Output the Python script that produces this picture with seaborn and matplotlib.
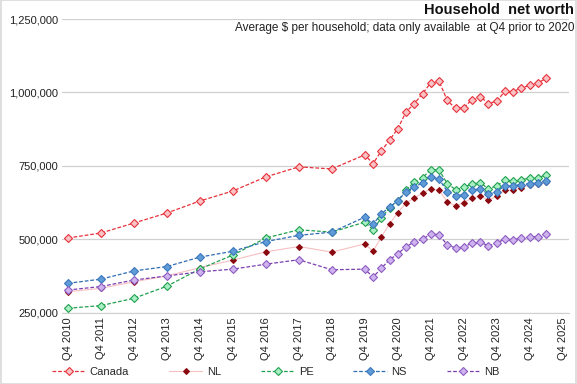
import numpy as np
import pandas as pd
import seaborn as sns
import matplotlib.pyplot as plt
from matplotlib.lines import Line2D
from matplotlib.patches import Rectangle
from matplotlib.ticker import FuncFormatter


# periods: annual Q4 up to 2019, then quarterly
periods = ['Q4 %d' % y for y in range(2010, 2020)]
periods += ['Q%d %d' % (q, y) for y in range(2020, 2026) for q in range(1, 5)][:22]

canada = [505000, 522000, 556000, 590000, 631000, 665000, 713000, 747000, 740000, 788000,
          758000, 801000, 838000, 877000,
          934000, 962000, 996000, 1033000,
          1039000, 973000, 946000, 948000,
          976000, 986000, 962000, 971000,
          1004000, 1003000, 1016000, 1024000,
          1033000, 1048000]
nl = [322000, 334000, 356000, 376000, 404000, 430000, 458000, 476000, 457000, 485000,
      460000, 508000, 553000, 591000,
      624000, 641000, 658000, 672000,
      668000, 628000, 615000, 625000,
      641000, 648000, 633000, 648000,
      667000, 667000, 676000, 686000,
      690000, 697000]
pe = [266000, 275000, 300000, 341000, 400000, 447000, 505000, 533000, 525000, 559000,
      533000, 573000, 607000, 632000,
      667000, 696000, 710000, 738000,
      737000, 690000, 670000, 677000,
      690000, 693000, 672000, 683000,
      701000, 698000, 704000, 708000,
      710000, 720000]
ns = [351000, 365000, 393000, 408000, 440000, 460000, 493000, 514000, 525000, 576000,
      552000, 587000, 610000, 632000,
      662000, 679000, 692000, 713000,
      706000, 663000, 649000, 652000,
      668000, 672000, 654000, 663000,
      683000, 683000, 687000, 690000,
      692000, 699000]
nb = [328000, 340000, 362000, 376000, 390000, 399000, 416000, 431000, 397000, 399000,
      372000, 402000, 431000, 451000,
      476000, 491000, 501000, 519000,
      516000, 482000, 471000, 474000,
      488000, 491000, 478000, 488000,
      502000, 499000, 505000, 508000,
      510000, 519000]

tick_years = list(range(2010, 2026))


def period_to_x(p):
    q, y = p.split()
    return int(y) + (int(q[1]) - 1) / 4


x = [period_to_x(p) for p in periods]
df = pd.DataFrame({'x': x, 'Canada': canada, 'NL': nl, 'PE': pe, 'NS': ns, 'NB': nb})

# name: (line colour, linestyle, linewidth, marker face, marker edge, marker size)
styles = {
    'Canada': ('#E8313A', (0, (3, 1.5)), 0.9, '#F9C2C4', '#E8313A', 4),
    'NL': ('#F7BFC2', '-', 0.8, '#8B0A10', '#8B0A10', 3),
    'PE': ('#22A050', (0, (3, 1.5)), 0.9, '#A8F0C4', '#22A050', 4),
    'NS': ('#2E6DB4', (0, (3, 1.5)), 0.9, '#5F9BD6', '#3D78BE', 4),
    'NB': ('#7B3FB0', (0, (3, 1.5)), 0.9, '#CDB4EE', '#8F5CC2', 4),
}

sns.set_style('white')
plt.rcParams['font.family'] = ['Liberation Sans', 'DejaVu Sans']

fig = plt.figure(figsize=(5.77, 3.84), dpi=100)
ax = fig.add_axes([0.1075, 0.185, 0.878, 0.7655])

handles = []
for name, (lc, ls, lw, mf, me, ms) in styles.items():
    sns.lineplot(data=df, x='x', y=name, ax=ax, color=lc, linestyle=ls, linewidth=lw,
                 marker='D', markersize=ms, markerfacecolor=mf, markeredgecolor=me,
                 markeredgewidth=0.8, zorder=3)
    handles.append(Line2D([0, 1], [0, 0], color=lc, linestyle=ls, linewidth=lw,
                          marker='D', markersize=ms, markerfacecolor=mf,
                          markeredgecolor=me, markeredgewidth=0.8, label=name))

ax.set_xlim(2010.57, 2025.93)
ax.set_ylim(250000, 1250000)
ax.set_yticks([250000, 500000, 750000, 1000000, 1250000])
ax.yaxis.set_major_formatter(FuncFormatter(lambda v, p: '{:,.0f}'.format(v)))
ax.set_xticks([y + 0.75 for y in tick_years])
ax.set_xticklabels(['Q4 %d' % y for y in tick_years], rotation=90)
ax.tick_params(axis='both', labelsize=8, length=0, pad=3, colors='#222222')
ax.set_xlabel('')
ax.set_ylabel('')
ax.grid(axis='y', color='#D0D0D0', linewidth=0.9)
for s in ['top', 'right', 'left']:
    ax.spines[s].set_visible(False)
ax.spines['bottom'].set_color('#D0D0D0')

fig.text(0.995, 0.975, 'Household  net worth', ha='right', va='center',
         fontsize=10.5, fontweight='bold', color='#111111')
fig.text(0.995, 0.927, 'Average $ per household; data only available  at Q4 prior to 2020',
         ha='right', va='center', fontsize=8.5, color='#222222')

fig.legend(handles=handles, loc='center', bbox_to_anchor=(0.478, 0.032), ncol=5,
           frameon=False, fontsize=8, handlelength=3.0, columnspacing=3.6, handletextpad=0.4)

fig.patches.append(Rectangle((0.001, 0.001), 0.998, 0.998, transform=fig.transFigure,
                             fill=False, edgecolor='#D9D9D9', linewidth=1.2))

fig.savefig('out.png', dpi=100)
